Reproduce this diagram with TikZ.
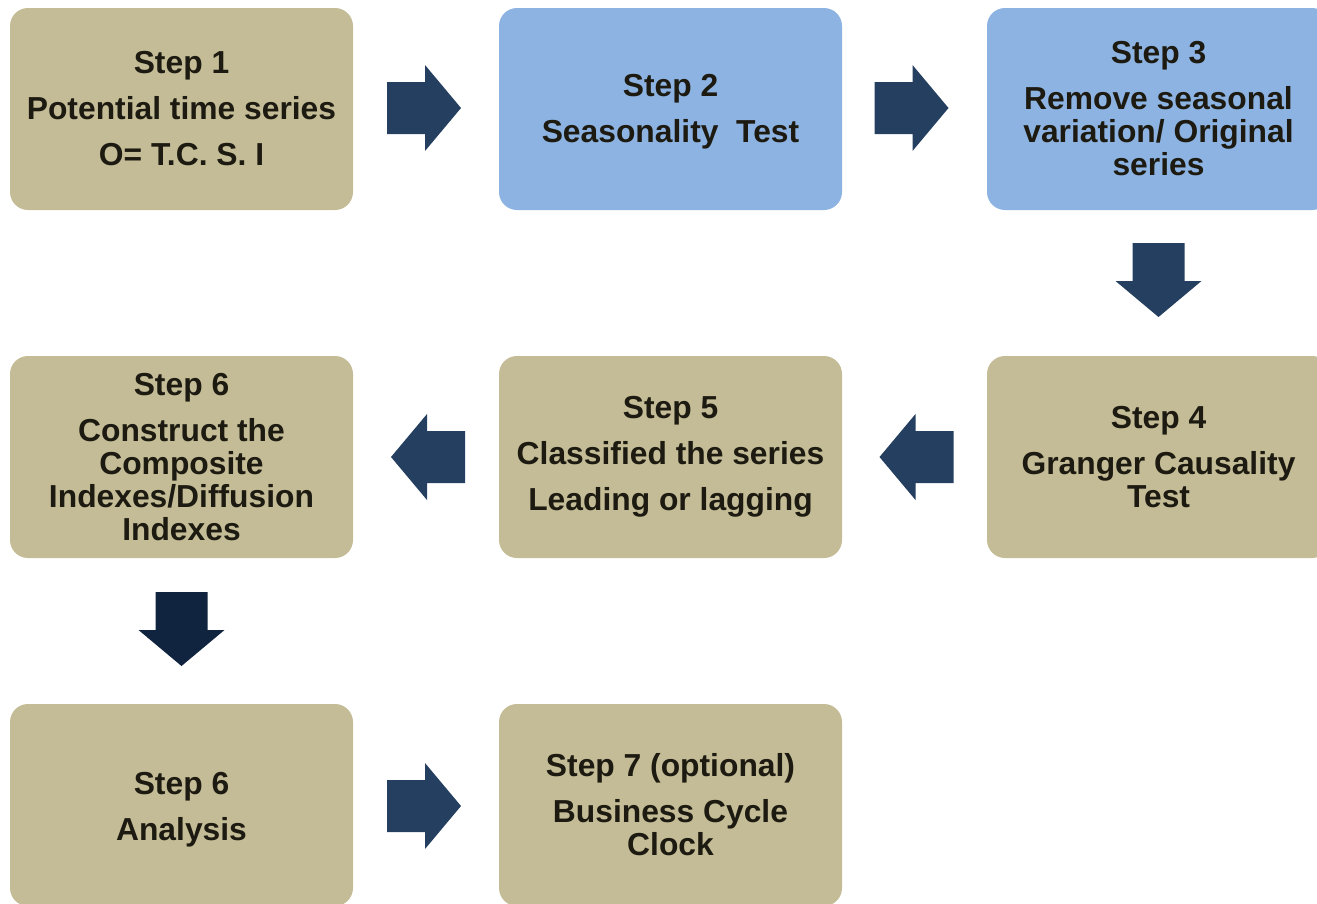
\documentclass[tikz,border=0pt]{standalone}
\usepackage{fontspec}
\setmainfont{Liberation Sans}
\usetikzlibrary{calc}
\definecolor{tan}{HTML}{C4BC96}
\definecolor{skyb}{HTML}{8DB3E2}
\definecolor{arr}{HTML}{243F60}
\definecolor{arrdark}{HTML}{10243F}
\definecolor{txt}{HTML}{1D1B11}
\tikzset{
  stepbox/.style={rectangle, rounded corners=18pt, minimum width=343pt, minimum height=202pt,
    inner sep=0pt, align=center, text=txt, font=\bfseries\fontsize{31.8}{33}\selectfont},
  tanbox/.style={stepbox, fill=tan},
  bluebox/.style={stepbox, fill=skyb},
}
\newcommand{\blockarrow}[3]{%
  \fill[#3, shift={(#1)}, rotate=#2] (-37,-26) -- (1,-26) -- (1,-43) -- (37,0) -- (1,43) -- (1,26) -- (-37,26) -- cycle;}
\begin{document}
\begin{tikzpicture}[x=1pt,y=-1pt]
\useasboundingbox (0,0) rectangle (1317,903);
\clip (0,0) rectangle (1317,903);
\node[tanbox]  (s1) at (181.5,109) {Step 1\\[13pt]Potential time series\\[13pt]O= T.C. S. I};
\node[bluebox] (s2) at (670.5,109) {\rule{0pt}{27pt}Step 2\\[13pt]Seasonality\ \ Test};
\node[bluebox] (s3) at (1158.5,109) {Step 3\\[13pt]Remove seasonal\\variation/ Original\\series};
\node[tanbox]  (s4) at (1158.5,457) {Step 4\\[13pt]Granger Causality\\Test};
\node[tanbox]  (s5) at (670.5,457) {Step 5\\[13pt]Classified the series\\[13pt]Leading or lagging};
\node[tanbox]  (s6) at (181.5,457) {Step 6\\[13pt]Construct the\\Composite\\Indexes/Diffusion\\Indexes};
\node[tanbox]  (s7) at (181.5,805) {\rule{0pt}{31pt}Step 6\\[13pt]Analysis};
\node[tanbox]  (s8) at (670.5,805) {Step 7 (optional)\\[13pt]Business Cycle\\Clock};
\coordinate (a1) at ($(s1.east)!0.5!(s2.west)+(-2,-1)$);
\coordinate (a2) at ($(s2.east)!0.5!(s3.west)+(-3,-1)$);
\coordinate (a3) at ($(s3.south)!0.5!(s4.north)+(0,-3)$);
\coordinate (a4) at ($(s4.west)!0.5!(s5.east)+(2,0)$);
\coordinate (a5) at ($(s5.west)!0.5!(s6.east)+(2,0)$);
\coordinate (a6) at ($(s6.south)!0.5!(s7.north)+(0,-2)$);
\coordinate (a7) at ($(s7.east)!0.5!(s8.west)+(-2,1)$);
\blockarrow{a1}{0}{arr}
\blockarrow{a2}{0}{arr}
\blockarrow{a3}{-90}{arr}
\blockarrow{a4}{180}{arr}
\blockarrow{a5}{180}{arr}
\blockarrow{a6}{-90}{arrdark}
\blockarrow{a7}{0}{arr}
\end{tikzpicture}
\end{document}
